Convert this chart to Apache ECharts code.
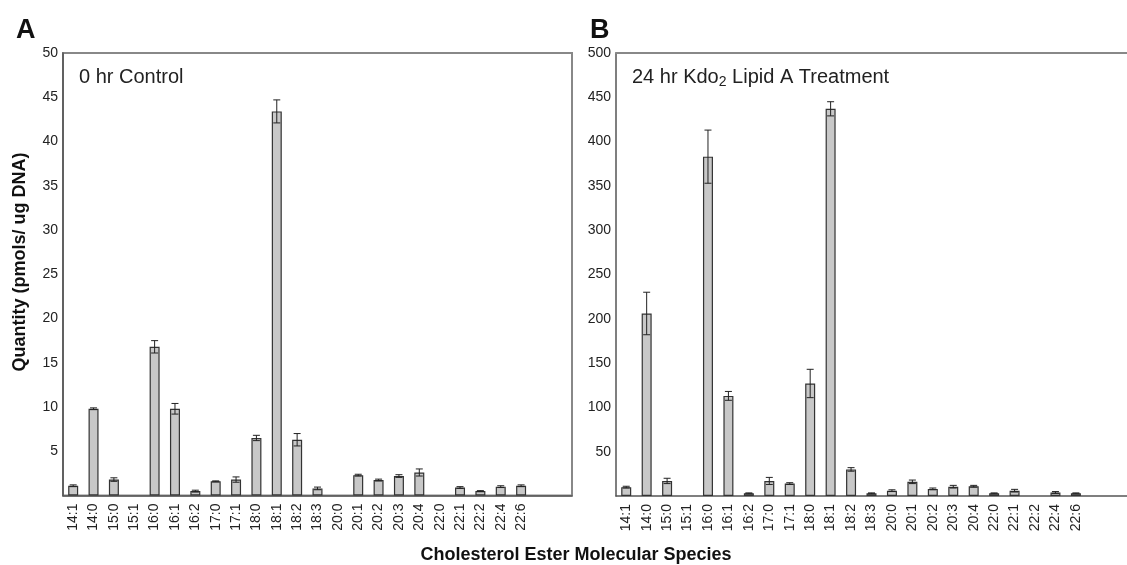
<!DOCTYPE html>
<html>
<head>
<meta charset="utf-8">
<script src="https://cdn.jsdelivr.net/npm/echarts@6/dist/echarts.min.js"></script>
<style>
html,body{margin:0;padding:0;background:#fff;}
#chart{width:1127px;height:565px;}
</style>
</head>
<body>
<div id="chart"></div>
<script>
const categories = ['14:1','14:0','15:0','15:1','16:0','16:1','16:2','17:0','17:1','18:0','18:1','18:2','18:3','20:0','20:1','20:2','20:3','20:4','22:0','22:1','22:2','22:4','22:6'];
const controlValues = [1.1, 9.8, 1.8, 0, 16.8, 9.8, 0.5, 1.6, 1.8, 6.5, 43.4, 6.3, 0.8, 0, 2.3, 1.75, 2.2, 2.6, 0, 0.9, 0.5, 1.0, 1.1];
const controlErrors = [0.1, 0.1, 0.2, 0, 0.7, 0.6, 0.1, 0.05, 0.3, 0.3, 1.3, 0.7, 0.15, 0, 0.1, 0.1, 0.15, 0.4, 0, 0.1, 0.05, 0.1, 0.1];
const treatedValues = [10, 206, 17, 0, 383, 113, 3, 17, 14, 127, 437, 30, 3, 6, 16, 8, 10.5, 11, 3, 6, 0, 4, 3];
const treatedErrors = [1, 24, 3, 0, 30, 5, 0.5, 4, 1, 16, 8, 2, 0.5, 1, 2, 1, 1.5, 1, 0.5, 1.5, 0, 1, 0.5];
const controlTicks = {min: 0, max: 50, interval: 5};
const treatedTicks = {min: 0, max: 500, interval: 50};

const FONT = '"Liberation Sans", Arial, sans-serif';
const chart = echarts.init(document.getElementById('chart'), null, {renderer: 'canvas'});

function xAxisFor(gridIndex) {
  return {
    type: 'category', gridIndex: gridIndex, data: categories, max: 24,
    axisLine: {show: true, lineStyle: {color: '#555', width: 1.5}},
    axisTick: {show: false},
    axisLabel: {rotate: 90, fontSize: 14, color: '#222', fontFamily: FONT, margin: 8, interval: 0},
    splitLine: {show: false}
  };
}
function yAxisFor(gridIndex, t) {
  return {
    type: 'value', gridIndex: gridIndex, min: t.min, max: t.max, interval: t.interval,
    axisLine: {show: true, lineStyle: {color: '#555', width: 1.5}},
    axisTick: {show: false},
    splitLine: {show: false},
    axisLabel: {fontSize: 14, color: '#222', fontFamily: FONT, margin: 5,
      formatter: v => v === 0 ? '' : String(v)}
  };
}
function errorSeries(idx, values, errors) {
  return {
    type: 'custom', xAxisIndex: idx, yAxisIndex: idx, z: 5,
    data: values.map((v, i) => [i, v, errors[i]]),
    renderItem: function (params, api) {
      const i = api.value(0), v = api.value(1), e = api.value(2);
      if (!e) return null;
      const top = api.coord([i, v + e]);
      const bot = api.coord([i, v - e]);
      const hw = 3.5;
      const st = {stroke: '#222', lineWidth: 1};
      return {type: 'group', children: [
        {type: 'line', shape: {x1: top[0], y1: top[1], x2: bot[0], y2: bot[1]}, style: st},
        {type: 'line', shape: {x1: top[0]-hw, y1: top[1], x2: top[0]+hw, y2: top[1]}, style: st},
        {type: 'line', shape: {x1: bot[0]-hw, y1: bot[1], x2: bot[0]+hw, y2: bot[1]}, style: st}
      ]};
    }
  };
}
function barSeries(idx, values) {
  return {
    type: 'bar', xAxisIndex: idx, yAxisIndex: idx, barWidth: 10,
    data: values.map(v => v === 0 ? '-' : v),
    itemStyle: {color: '#c8c8c8', borderColor: '#333', borderWidth: 1.2},
    animation: false
  };
}

const topFrameAxis = {
  type: 'category', gridIndex: 1, position: 'top', data: categories, max: 24,
  axisLine: {show: true, lineStyle: {color: '#888', width: 2}},
  axisTick: {show: false}, axisLabel: {show: false}, splitLine: {show: false}
};

chart.setOption({
  animation: false,
  backgroundColor: '#fff',
  grid: [
    {left: 63, top: 53, width: 509, height: 442.5, show: true, borderColor: '#888', borderWidth: 2},
    {left: 616, top: 53, width: 512.5, height: 443, show: false}
  ],
  xAxis: [xAxisFor(0), xAxisFor(1), topFrameAxis],
  yAxis: [yAxisFor(0, controlTicks), yAxisFor(1, treatedTicks)],
  title: [
    {text: 'A', left: 11, top: 12, textStyle: {fontSize: 27, fontWeight: 'bold', color: '#111', fontFamily: FONT}},
    {text: 'B', left: 585, top: 12, textStyle: {fontSize: 27, fontWeight: 'bold', color: '#111', fontFamily: FONT}},
    {text: '0 hr Control', left: 74, top: 62, textStyle: {fontSize: 20, fontWeight: 'normal', color: '#222', fontFamily: FONT}},
    {text: '{a|24 hr Kdo}{s|2}{a| Lipid A Treatment}', left: 627, top: 62,
      textStyle: {fontFamily: FONT, color: '#222', fontWeight: 'normal',
        rich: {
          a: {fontSize: 20, lineHeight: 22, verticalAlign: 'top', color: '#222', fontFamily: FONT, fontWeight: 'normal'},
          s: {fontSize: 14, lineHeight: 14, padding: [12, 0, 0, 0], verticalAlign: 'bottom', color: '#222', fontFamily: FONT, fontWeight: 'normal'}
        }}}
  ],
  graphic: [
    {type: 'text', x: 20, y: 262, rotation: Math.PI / 2,
      style: {text: 'Quantity (pmols/ ug DNA)', fontSize: 18, fontWeight: 'bold', fill: '#111', fontFamily: FONT, align: 'center', verticalAlign: 'middle'}},
    {type: 'text', x: 576, y: 555,
      style: {text: 'Cholesterol Ester Molecular Species', fontSize: 18, fontWeight: 'bold', fill: '#111', fontFamily: FONT, align: 'center', verticalAlign: 'middle'}}
  ],
  series: [
    barSeries(0, controlValues), errorSeries(0, controlValues, controlErrors),
    barSeries(1, treatedValues), errorSeries(1, treatedValues, treatedErrors)
  ]
});
</script>
</body>
</html>
